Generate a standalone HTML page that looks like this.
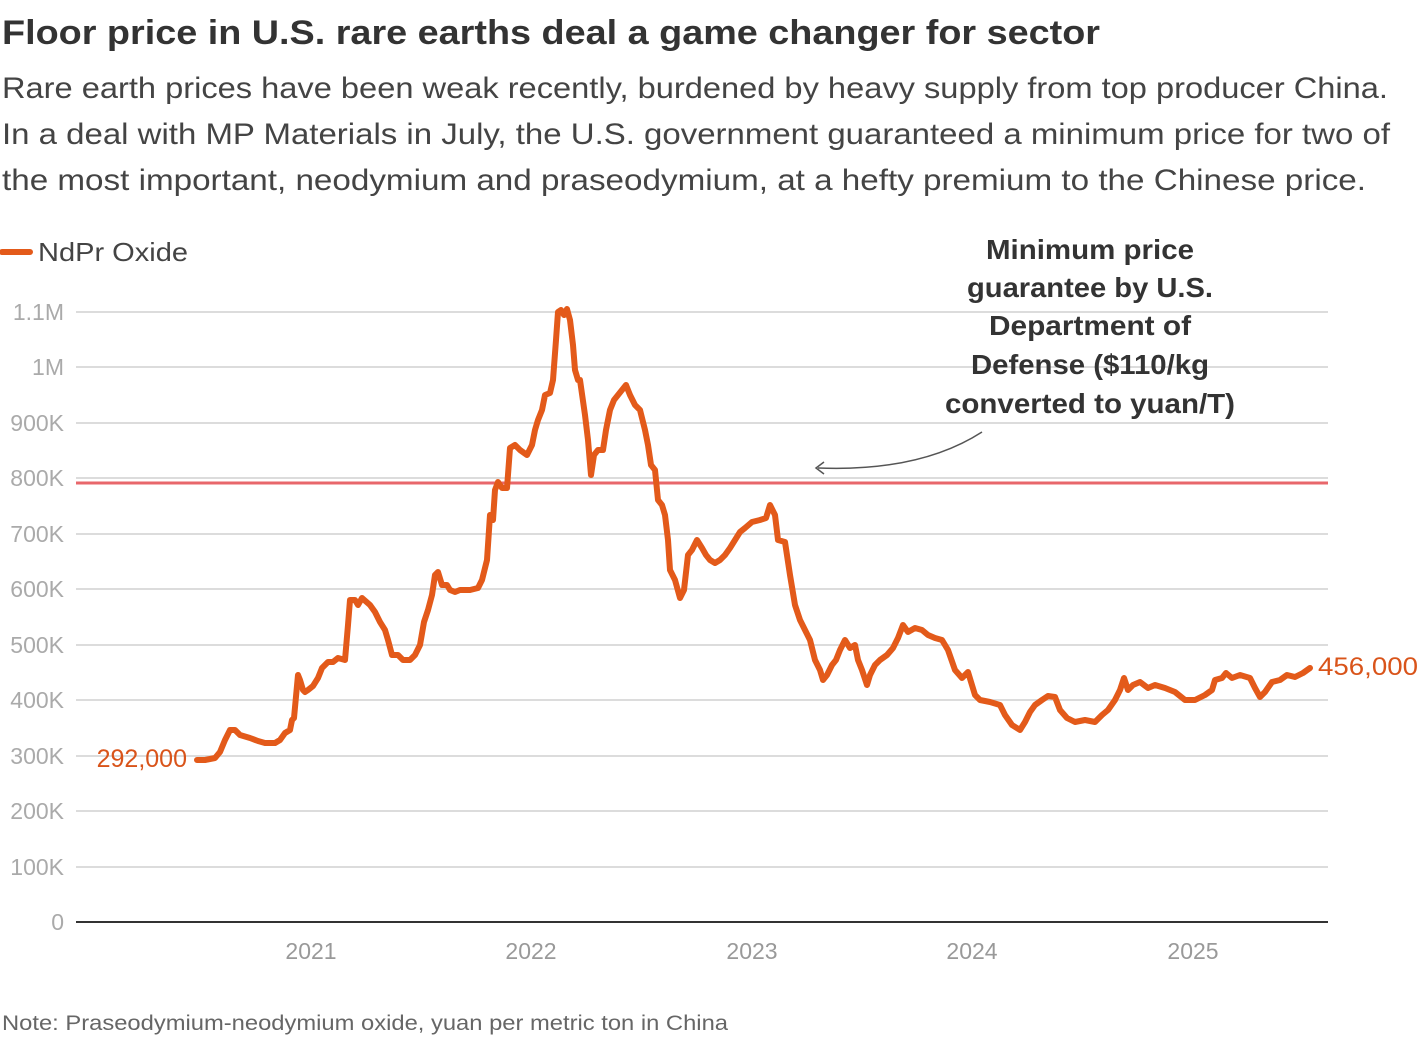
<!DOCTYPE html>
<html><head><meta charset="utf-8"><style>
body{margin:0;background:#fff;width:1420px;height:1036px;overflow:hidden;font-family:"Liberation Sans",sans-serif;}
</style></head><body>
<svg width="1420" height="1036" xmlns="http://www.w3.org/2000/svg" font-family="Liberation Sans, sans-serif">
<text x="2" y="44" font-size="34" font-weight="bold" fill="#333" textLength="1098" lengthAdjust="spacingAndGlyphs">Floor price in U.S. rare earths deal a game changer for sector</text>
<g font-size="30" fill="#444">
<text x="2" y="98" textLength="1386" lengthAdjust="spacingAndGlyphs">Rare earth prices have been weak recently, burdened by heavy supply from top producer China.</text>
<text x="2" y="144" textLength="1388" lengthAdjust="spacingAndGlyphs">In a deal with MP Materials in July, the U.S. government guaranteed a minimum price for two of</text>
<text x="2" y="190" textLength="1364" lengthAdjust="spacingAndGlyphs">the most important, neodymium and praseodymium, at a hefty premium to the Chinese price.</text>
</g>
<line x1="2" y1="252" x2="30" y2="252" stroke="#e35a1a" stroke-width="6" stroke-linecap="round"/>
<text x="38" y="261" font-size="26" fill="#444" textLength="150" lengthAdjust="spacingAndGlyphs">NdPr Oxide</text>
<g stroke="#d0d0d0" stroke-width="1.5">
<line x1="76" x2="1328" y1="312" y2="312"/><line x1="76" x2="1328" y1="367" y2="367"/>
<line x1="76" x2="1328" y1="423" y2="423"/><line x1="76" x2="1328" y1="478" y2="478"/>
<line x1="76" x2="1328" y1="534" y2="534"/><line x1="76" x2="1328" y1="589" y2="589"/>
<line x1="76" x2="1328" y1="645" y2="645"/><line x1="76" x2="1328" y1="700" y2="700"/>
<line x1="76" x2="1328" y1="756" y2="756"/><line x1="76" x2="1328" y1="811" y2="811"/>
<line x1="76" x2="1328" y1="867" y2="867"/>
</g>
<line x1="76" x2="1328" y1="922" y2="922" stroke="#333" stroke-width="2"/>
<g font-size="23" fill="#aaa" text-anchor="end">
<text x="64" y="320">1.1M</text><text x="64" y="375">1M</text><text x="64" y="431">900K</text>
<text x="64" y="486">800K</text><text x="64" y="542">700K</text><text x="64" y="597">600K</text>
<text x="64" y="653">500K</text><text x="64" y="708">400K</text><text x="64" y="764">300K</text>
<text x="64" y="819">200K</text><text x="64" y="875">100K</text><text x="64" y="930">0</text>
</g>
<g font-size="23" fill="#999" text-anchor="middle">
<text x="311" y="959">2021</text><text x="531" y="959">2022</text><text x="752" y="959">2023</text>
<text x="972" y="959">2024</text><text x="1193" y="959">2025</text>
</g>
<line x1="76" x2="1328" y1="483" y2="483" stroke="#e8676b" stroke-width="3"/>
<polyline fill="none" stroke="#e35a1a" stroke-width="6" stroke-linejoin="round" stroke-linecap="round" points="197,760 205,760 215,758 220,752 225,740 230,730 235,730 240,735 250,738 258,741 265,743 275,743 280,740 285,733 290,730 292,720 294,718 298,675 300,680 303,690 305,692 308,690 313,686 318,678 322,668 328,662 333,662 338,658 345,660 348,625 350,600 355,600 358,605 362,598 370,605 375,612 380,622 385,630 388,640 392,655 398,655 403,660 410,660 415,655 420,645 424,622 428,610 432,595 435,575 438,572 442,585 447,585 450,590 455,592 460,590 470,590 478,588 482,580 487,560 490,515 493,520 495,490 498,482 502,488 507,488 510,448 515,445 520,450 527,455 532,445 535,430 538,420 542,410 545,395 550,393 553,380 556,340 558,312 561,310 564,315 567,309 570,320 573,345 575,370 578,380 580,380 585,415 588,440 591,475 594,455 598,450 603,450 606,430 610,410 614,400 618,395 622,390 626,385 630,395 635,405 640,410 645,430 648,445 651,465 655,470 658,500 662,505 665,515 668,540 670,570 675,580 680,598 684,590 688,555 692,550 697,540 702,548 706,555 710,560 715,563 720,560 725,555 730,548 735,540 740,532 745,528 752,522 760,520 766,518 770,505 775,515 778,540 785,542 790,575 795,605 800,620 805,630 810,640 815,660 820,670 823,680 827,675 832,665 836,660 840,650 845,640 850,648 855,645 858,660 862,670 867,685 870,675 875,665 880,660 887,655 893,648 898,638 903,625 908,632 915,628 922,630 928,635 935,638 942,640 948,650 955,670 962,678 968,672 975,695 980,700 990,702 1000,705 1005,715 1012,725 1020,730 1025,722 1030,712 1035,705 1042,700 1048,696 1055,697 1060,710 1067,718 1075,722 1085,720 1095,722 1102,715 1108,710 1115,700 1120,690 1124,678 1128,690 1133,685 1140,682 1148,688 1155,685 1165,688 1175,692 1185,700 1195,700 1205,695 1212,690 1215,680 1222,678 1226,673 1232,678 1240,675 1250,678 1255,688 1260,697 1265,692 1272,682 1280,680 1287,675 1295,677 1303,673 1310,668"/>
<text x="187" y="767" font-size="25" fill="#d9541a" text-anchor="end">292,000</text>
<text x="1318" y="675" font-size="25" fill="#d9541a" textLength="100" lengthAdjust="spacingAndGlyphs">456,000</text>
<g font-size="28" font-weight="bold" fill="#333" text-anchor="middle">
<text x="1090" y="259" textLength="208" lengthAdjust="spacingAndGlyphs">Minimum price</text>
<text x="1090" y="297" textLength="246" lengthAdjust="spacingAndGlyphs">guarantee by U.S.</text>
<text x="1090" y="335" textLength="202" lengthAdjust="spacingAndGlyphs">Department of</text>
<text x="1090" y="374" textLength="238" lengthAdjust="spacingAndGlyphs">Defense ($110/kg</text>
<text x="1090" y="413" textLength="290" lengthAdjust="spacingAndGlyphs">converted to yuan/T)</text>
</g>
<path d="M982,432 Q920,472 818,468" fill="none" stroke="#555" stroke-width="1.5"/>
<path d="M824,462 L816,468 L824,474" fill="none" stroke="#555" stroke-width="1.5"/>
<text x="2" y="1030" font-size="21" fill="#666" textLength="726" lengthAdjust="spacingAndGlyphs">Note: Praseodymium-neodymium oxide, yuan per metric ton in China</text>
</svg>
</body></html>
